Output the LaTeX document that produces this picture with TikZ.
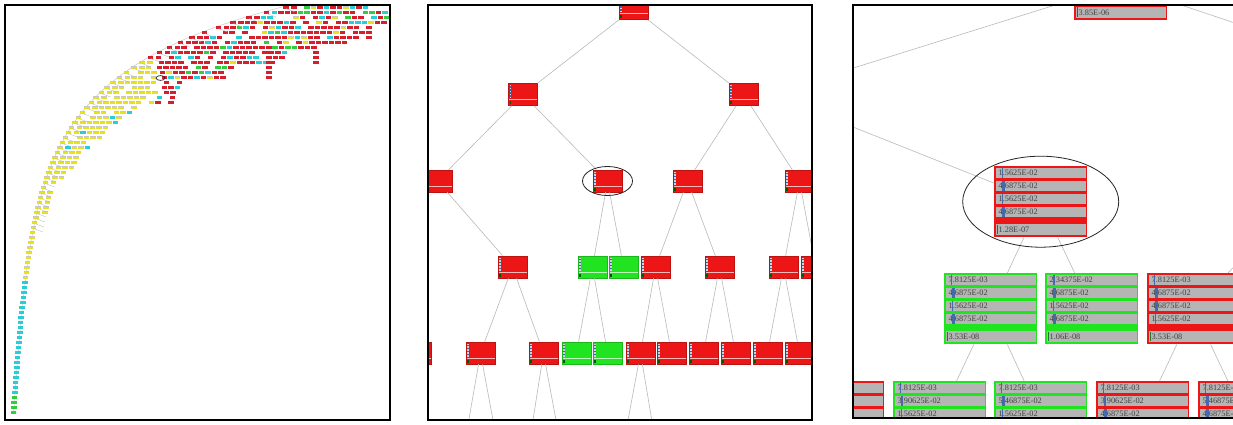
\documentclass[tikz,border=0pt]{standalone}
\usepackage{fontspec}
\setmainfont{Liberation Serif}

\definecolor{nodered}{RGB}{236,22,22}
\definecolor{nodegreen}{RGB}{32,228,32}
\definecolor{rowgrey}{RGB}{181,181,181}
\definecolor{edgegrey}{RGB}{185,185,185}
\definecolor{barblue}{RGB}{58,100,172}
\definecolor{bargreen}{RGB}{30,118,40}
\definecolor{tinyred}{RGB}{215,30,45}
\definecolor{tinycyan}{RGB}{40,205,215}
\definecolor{tinygreen}{RGB}{50,205,60}
\definecolor{tinyyellow}{RGB}{232,226,30}

\newcommand\rowfont{\fontsize{8.3}{9}\selectfont}

\pgfmathdeclarefunction{spinex}{1}{%
  \pgfmathparse{13+240*exp(-(#1-6)/68)+25*(413-#1)/407+8*exp(max(-15,-(#1-6)/20))}%
}

\tikzset{
  edge/.style={draw=edgegrey, line width=0.6pt},
  thinedge/.style={draw=edgegrey, line width=0.35pt},
  ring/.style={draw=black!85, line width=0.8pt},
  frame/.style={draw=black, line width=1.2pt},
  frameshade/.style={draw=black, line width=2.4pt},
  mini/.style={draw=#1!80!black, fill=#1, line width=0.5pt,
    minimum width=29pt, minimum height=22pt, inner sep=0pt,
    path picture={
      \draw[white!70!#1, line width=0.6pt]
        ([yshift=6pt]path picture bounding box.south west) --
        ([yshift=6pt]path picture bounding box.south east);
      \fill[gray!35] ([shift={(1pt,-1.5pt)}]path picture bounding box.north west)
        rectangle ([shift={(2.8pt,7.5pt)}]path picture bounding box.south west);
      \foreach \k in {0,1,2,3}
        \fill[barblue] ([shift={(1.3pt,-2.5pt-3pt*\k)}]path picture bounding box.north west)
          rectangle ++(1.2pt,-1.6pt);
      \fill[green!35!black] ([shift={(1pt,1.2pt)}]path picture bounding box.south west)
        rectangle ++(1.6pt,3pt);
    }},
  bigbox/.style={anchor=north west, fill=#1, minimum width=93pt,
    minimum height=71pt, inner sep=0pt},
  rowbox/.style={anchor=north west, fill=rowgrey, text=black!75, font=\rowfont,
    text width=84pt, align=left, inner xsep=3pt, inner ysep=0pt,
    minimum height=10.5pt},
}

% name, x, y (top left), colour, rows text/bar, last row
\newcommand\bignode[6]{%
  \node[bigbox=#4] (#1) at (#2,#3) {};
  \foreach \txt/\w [count=\k] in {#5}{
    \node[rowbox] (#1-\k) at ([shift={(1.5,1.5+13*(\k-1))}]#1.north west) {\txt};
    \fill[barblue, opacity=0.9] ([shift={(5.6+0.3*\w,0.5)}]#1-\k.north west)
      rectangle ([shift={(5.6+1.0*\w,-0.5)}]#1-\k.south west);
  }
  \node[rowbox] (#1-p) at ([shift={(1.5,58)}]#1.north west) {#6};
  \fill[bargreen] ([shift={(1.5,0.5)}]#1-p.north west)
    rectangle ([shift={(2.6,-0.5)}]#1-p.south west);
}

\newcommand\tinybox[3]{\fill[#3] (#1,#2) rectangle ++(5.5,2.6);}
\newcommand\tinyyel[2]{%
  \fill[gray!45] (#1,#2) rectangle ++(5.5,1.2);
  \fill[tinyyellow] (#1,#2+1.2) rectangle ++(5.5,1.5);}

\begin{document}
\begin{tikzpicture}[x=1pt, y=-1pt]
  \useasboundingbox (0,0) rectangle (1233,425);
  \fill[white] (0,0) rectangle (1233,425);
  \pgfmathsetseed{7}

  % whole tree
  \begin{scope}
    \clip (5,5) rectangle (390,420);
    \draw[thinedge] plot[domain=6:413, samples=80] ({spinex(\x)},\x);
    \foreach \yy/\yel/\rend in {6/0/388, 11/0/388, 16/0/388, 21/0/388, 26/0/372,
        31/0/362, 36/0/357, 41/0/345, 46/0/322, 51/0/290, 56/0/282, 61/152/270,
        66/150/228, 71/153/220, 76/155/222, 81/157/180, 86/155/176, 91/157/174,
        96/150/172, 101/142/170, 106/136/0, 111/130/0, 116/122/0, 121/115/0,
        126/108/0, 131/102/0, 136/98/0, 141/92/0, 146/86/0, 151/82/0, 156/78/0,
        161/72/0, 166/70/0, 171/66/0, 176/62/0, 181/58/0, 186/55/0, 191/52/0,
        196/50/0, 201/47/0, 206/45/0, 211/43/0, 216/41/0, 221/39/0}{
      \pgfmathsetmacro\rowx{spinex(\yy)+5}
      \ifdim\yel pt>\rowx pt
        \pgfmathtruncatemacro\ny{(\yel-\rowx)/6.5}
        \foreach \j in {0,...,\ny}{
          \pgfmathsetmacro\sx{\rowx+6.5*\j}
          \pgfmathrandominteger\pick{0}{19}
          \ifnum\pick<2 \else\ifnum\pick<3 \tinybox{\sx}{\yy}{tinycyan}%
          \else\tinyyel{\sx}{\yy}\fi\fi
        }
      \fi
      \pgfmathsetmacro\redx{max(\rowx,\yel+6.5)}
      \ifdim\rend pt>\redx pt
        \pgfmathtruncatemacro\nr{(\rend-\redx)/6.5}
        \foreach \j in {0,...,\nr}{
          \pgfmathsetmacro\sx{\redx+6.5*\j}
          \pgfmathrandominteger\pick{0}{19}
          \ifnum\pick<3 \else\ifnum\pick<14 \tinybox{\sx}{\yy}{tinyred}%
          \else\ifnum\pick<17 \tinybox{\sx}{\yy}{tinycyan}%
          \else\ifnum\pick<19 \tinybox{\sx}{\yy}{tinygreen}%
          \else\tinyyel{\sx}{\yy}\fi\fi\fi\fi
        }
      \fi
    }
    \foreach \yy in {46,51,...,76} {\tinybox{266}{\yy}{tinyred}}
    \foreach \yy in {51,56,61} {\tinybox{313}{\yy}{tinyred}}
    \foreach \yy in {26,31,36} {\tinybox{366}{\yy}{tinyred}}
    \foreach \lv in {0,...,81}{
      \pgfmathsetmacro\yy{6+5*\lv}
      \pgfmathsetmacro\xx{spinex(\yy)-3}
      \pgfmathtruncatemacro\zone{(\yy>57)+(\yy>276)+(\yy>392)}
      \ifnum\zone=1 \tinyyel{\xx}{\yy}\else
        \ifcase\zone \def\tone{tinyred}\or\or\def\tone{tinycyan}\or\def\tone{tinygreen}\fi
        \tinybox{\xx}{\yy}{\tone}\fi
      \ifdim\yy pt<230pt \draw[thinedge] (\xx+3,\yy+2.6) -- (\xx+12,\yy+6);\fi
    }
    \draw[ring, line width=0.7pt] (160.5,78) ellipse [x radius=4.5, y radius=2.4];
  \end{scope}
  \draw[frame] (5,5) rectangle (390,420);
  \draw[frameshade] (390,5) -- (390,420) -- (5,420);

  % zoomed in once
  \begin{scope}
    \clip (428,5) rectangle (812,420);
    \node[mini=nodered] (m0) at (633.5,8.5) {};
    \node[mini=nodered] (m1) at (523,94.5) {};
    \node[mini=nodered] (m2) at (743.5,94.5) {};
    \node[mini=nodered] (m3) at (437.5,181) {};
    \node[mini=nodered] (m4) at (607.5,181) {};
    \node[mini=nodered] (m5) at (687.5,181) {};
    \node[mini=nodered] (m6) at (799.5,181) {};
    \node[mini=nodered] (m7) at (512.5,267) {};
    \node[mini=nodegreen] (m8) at (592.5,267) {};
    \node[mini=nodegreen] (m9) at (623.5,267) {};
    \node[mini=nodered] (m10) at (655.5,267) {};
    \node[mini=nodered] (m11) at (719.5,267) {};
    \node[mini=nodered] (m12) at (783.5,267) {};
    \node[mini=nodered] (m13) at (815.5,267) {};
    \node[mini=nodered] (m14) at (416.5,353) {};
    \node[mini=nodered] (m15) at (480.5,353) {};
    \node[mini=nodered] (m16) at (543.5,353) {};
    \node[mini=nodegreen] (m17) at (576.5,353) {};
    \node[mini=nodegreen] (m18) at (607.5,353) {};
    \node[mini=nodered] (m19) at (640.5,353) {};
    \node[mini=nodered] (m20) at (671.5,353) {};
    \node[mini=nodered] (m21) at (703.5,353) {};
    \node[mini=nodered] (m22) at (735.5,353) {};
    \node[mini=nodered] (m23) at (767.5,353) {};
    \node[mini=nodered] (m24) at (799.5,353) {};
    \coordinate (f1) at (465.5,439);
    \coordinate (f2) at (496.5,439);
    \coordinate (f3) at (530,439);
    \coordinate (f4) at (559.5,439);
    \coordinate (f5) at (624.5,439);
    \coordinate (f6) at (655,439);
    \begin{scope}[edge]
      \draw (m0) to (m1);
      \draw (m0) to (m2);
      \draw (m1) to (m3);
      \draw (m1) to (m4);
      \draw (m2) to (m5);
      \draw (m2) to (m6);
      \draw (m3) to (m7);
      \draw (m4) to (m8);
      \draw (m4) to (m9);
      \draw (m5) to (m10);
      \draw (m5) to (m11);
      \draw (m6) to (m12);
      \draw (m6) to (m13);
      \draw (m7) to (m15);
      \draw (m7) to (m16);
      \draw (m8) to (m17);
      \draw (m8) to (m18);
      \draw (m10) to (m19);
      \draw (m10) to (m20);
      \draw (m11) to (m21);
      \draw (m11) to (m22);
      \draw (m12) to (m23);
      \draw (m12) to (m24);
      \draw (m15) to (f1);
      \draw (m15) to (f2);
      \draw (m16) to (f3);
      \draw (m16) to (f4);
      \draw (m19) to (f5);
      \draw (m19) to (f6);
    \end{scope}
    \draw[ring] (m4) ellipse [x radius=25, y radius=14.5];
  \end{scope}
  \draw[frame] (428,5) rectangle (812,420);
  \draw[frameshade] (812,5) -- (812,420) -- (428,420);

  % zoomed in twice
  \begin{scope}
    \clip (853,5) rectangle (1236,418);
    \bignode{top}{1074}{-51}{nodered}{/0,/0,/0,/0}{3.85E-06}
    \bignode{pick}{994}{166}{nodered}{1.5625E-02/2,4.6875E-02/3.8,1.5625E-02/2,4.6875E-02/3.8}{1.28E-07}
    \bignode{left}{944}{273}{nodegreen}{7.8125E-03/1.2,4.6875E-02/3.8,1.5625E-02/2,4.6875E-02/3.8}{3.53E-08}
    \bignode{mid}{1045}{273}{nodegreen}{2.34375E-02/2.5,4.6875E-02/3.8,1.5625E-02/2,4.6875E-02/3.8}{1.06E-08}
    \bignode{right}{1147}{273}{nodered}{7.8125E-03/1.2,4.6875E-02/3.8,4.6875E-02/3.8,1.5625E-02/2}{3.53E-08}
    \bignode{b0}{791}{381}{nodered}{/0,/0,/0,/0}{}
    \bignode{b1}{893}{381}{nodegreen}{7.8125E-03/1.2,3.90625E-02/3.2,1.5625E-02/2,/0}{}
    \bignode{b2}{994}{381}{nodegreen}{7.8125E-03/1.2,5.46875E-02/4.3,1.5625E-02/2,/0}{}
    \bignode{b3}{1096}{381}{nodered}{7.8125E-03/1.2,3.90625E-02/3.2,4.6875E-02/3.8,/0}{}
    \bignode{b4}{1198}{381}{nodered}{7.8125E-03/1.2,5.46875E-02/4.3,4.6875E-02/3.8,/0}{}
    \coordinate (up) at (770,94);
    \coordinate (over) at (1443,93);
    \coordinate (side) at (1297,201);
    \begin{scope}[edge]
      \draw (top) to (up);
      \draw (top) to (over);
      \draw (up) to (pick);
      \draw (side) to (right);
      \draw (pick) to (left);
      \draw (pick) to (mid);
      \draw (left) to (b1);
      \draw (left) to (b2);
      \draw (right) to (b3);
      \draw (right) to (b4);
    \end{scope}
    \draw[ring] (pick) ellipse [x radius=78, y radius=45.5];
  \end{scope}
  \draw[frame] (853,5) rectangle (1245,418);
  \draw[frameshade] (853,418) -- (1245,418);
\end{tikzpicture}
\end{document}
